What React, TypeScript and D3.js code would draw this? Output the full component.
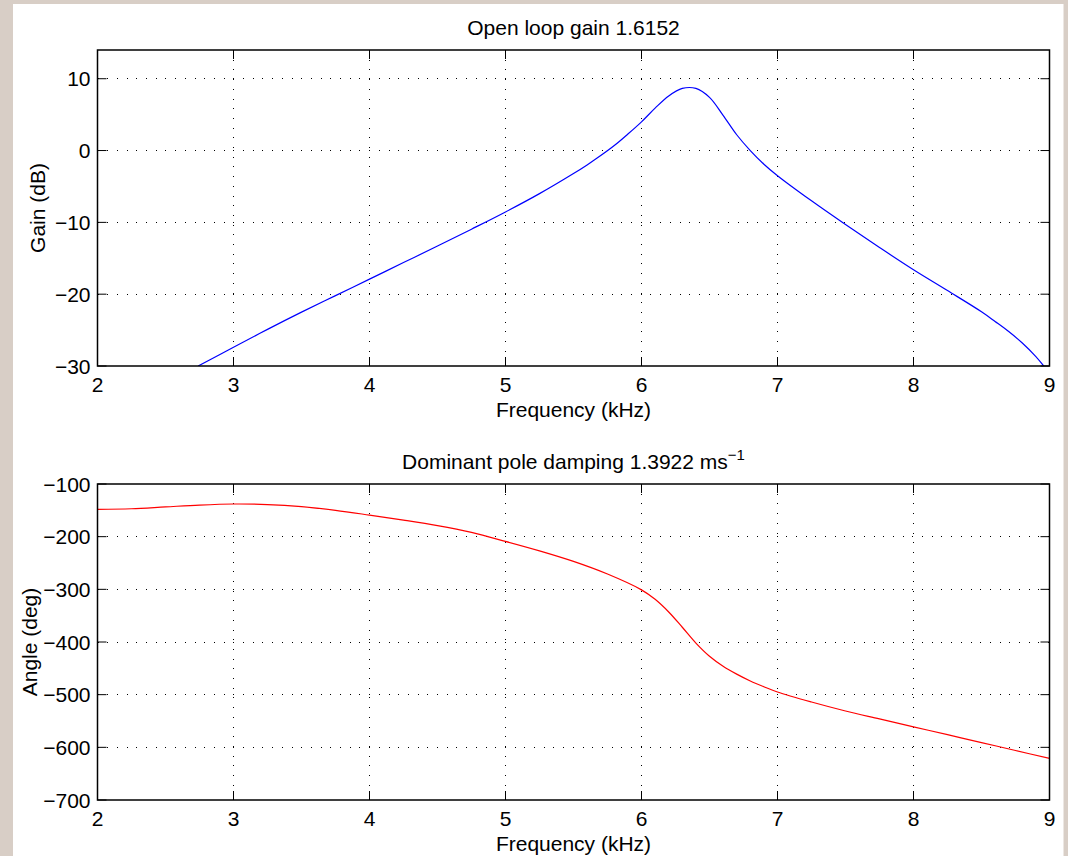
import React from "react";
import * as d3 from "d3";

// gain curve
const gainFreq = [2.74, 3.0, 3.25, 3.5, 3.75, 4.0, 4.25, 4.5, 4.75, 5.0, 5.25, 5.5, 5.6, 5.7, 5.8, 5.9, 6.0, 6.1, 6.2, 6.3, 6.4, 6.5, 6.6, 6.7, 6.8, 6.9, 7.0, 7.25, 7.5, 7.75, 8.0, 8.25, 8.5, 8.6, 8.7, 8.8, 8.9, 9.0];
const gainDb = [-30, -27.4, -24.9, -22.5, -20.2, -17.9, -15.6, -13.3, -10.95, -8.55, -6.0, -3.2, -2.0, -0.7, 0.7, 2.3, 4.0, 5.9, 7.6, 8.65, 8.65, 7.4, 4.9, 2.2, 0.0, -1.9, -3.5, -7.0, -10.3, -13.5, -16.6, -19.5, -22.45, -23.8, -25.2, -26.8, -28.7, -31.0];

// phase curve
const angleFreq = [2.0, 2.25, 2.5, 2.75, 3.0, 3.25, 3.5, 3.75, 4.0, 4.25, 4.5, 4.75, 5.0, 5.25, 5.5, 5.75, 6.0, 6.1, 6.2, 6.3, 6.4, 6.5, 6.6, 6.7, 6.8, 6.9, 7.0, 7.25, 7.5, 7.75, 8.0, 8.25, 8.5, 8.75, 9.0];
const angleDeg = [-148, -147, -143.5, -140, -138, -139, -143, -150, -159, -168.5, -179, -192, -209, -227, -247, -271, -301, -319, -343, -372, -402, -427, -446, -461, -474, -485, -495, -514, -531, -546, -561, -576, -591, -606, -621];

const xTicks = [2, 3, 4, 5, 6, 7, 8, 9];
const gainTicks = [-30, -20, -10, 0, 10];
const angleTicks = [-700, -600, -500, -400, -300, -200, -100];

const W = 1068;
const H = 856;
const FONT = "'Liberation Sans', Arial, Helvetica, sans-serif";
const FS = 21;
const left = 97.5;
const right = 1049.5;
const tickLen = 9;

type PanelProps = {
  top: number;
  bottom: number;
  yDomain: [number, number];
  yTicks: number[];
  xs: number[];
  ys: number[];
  color: string;
  id: string;
  yLabel: string;
  yLabelX: number;
  title: React.ReactNode;
};

const Panel = ({ top, bottom, yDomain, yTicks, xs, ys, color, id, yLabel, yLabelX, title }: PanelProps) => {
  const x = d3.scaleLinear().domain([2, 9]).range([left, right]);
  const y = d3.scaleLinear().domain(yDomain).range([bottom, top]);
  const line = d3
    .line<number>()
    .x((_, i) => x(xs[i]))
    .y((d) => y(d))
    .curve(d3.curveCatmullRom.alpha(0.5));

  return (
    <g>
      <clipPath id={id}>
        <rect x={left} y={top} width={right - left} height={bottom - top} />
      </clipPath>
      {/* dotted grid */}
      {xTicks.slice(1, -1).map((t) => (
        <line key={"gx" + t} x1={x(t)} x2={x(t)} y1={top} y2={bottom} stroke="#000" strokeWidth={1} strokeDasharray="1 8.7" shapeRendering="crispEdges" />
      ))}
      {yTicks.filter((t) => y(t) > top + 1 && y(t) < bottom - 1).map((t) => (
        <line key={"gy" + t} x1={left} x2={right} y1={y(t)} y2={y(t)} stroke="#000" strokeWidth={1} strokeDasharray="1 8.7" shapeRendering="crispEdges" />
      ))}
      <path d={line(ys) ?? ""} fill="none" stroke={color} strokeWidth={1.2} clipPath={`url(#${id})`} />
      {/* ticks on all four sides */}
      {xTicks.map((t) => (
        <g key={"tx" + t}>
          <line x1={x(t)} x2={x(t)} y1={bottom} y2={bottom - tickLen} stroke="#000" />
          <line x1={x(t)} x2={x(t)} y1={top} y2={top + tickLen} stroke="#000" />
          <text x={x(t)} y={bottom + 26} textAnchor="middle" fontSize={FS} fontFamily={FONT}>
            {t}
          </text>
        </g>
      ))}
      {yTicks.map((t) => (
        <g key={"ty" + t}>
          <line x1={left} x2={left + tickLen} y1={y(t)} y2={y(t)} stroke="#000" />
          <line x1={right} x2={right - tickLen} y1={y(t)} y2={y(t)} stroke="#000" />
          <text x={left - 7} y={y(t) + 7.5} textAnchor="end" fontSize={FS} fontFamily={FONT}>
            {t < 0 ? "\u2212" + Math.abs(t) : t}
          </text>
        </g>
      ))}
      <rect x={left} y={top} width={right - left} height={bottom - top} fill="none" stroke="#000" strokeWidth={1.5} />
      <text x={(left + right) / 2} y={top - 15} textAnchor="middle" fontSize={FS} fontFamily={FONT}>
        {title}
      </text>
      <text x={(left + right) / 2} y={bottom + 51} textAnchor="middle" fontSize={FS} fontFamily={FONT}>
        Frequency (kHz)
      </text>
      <text
        transform={`translate(${yLabelX},${(top + bottom) / 2}) rotate(-90)`}
        textAnchor="middle"
        fontSize={FS}
        fontFamily={FONT}
      >
        {yLabel}
      </text>
    </g>
  );
};

export default function App() {
  return (
    <svg width={W} height={H} style={{ position: "absolute", left: 0, top: 0, display: "block" }}>
      <rect x={0} y={0} width={W} height={H} fill="#d8cec6" />
      <rect x={13} y={4} width={1050.5} height={H - 4} fill="#fff" />
      <Panel
        top={50}
        bottom={366}
        yDomain={[-30, 14]}
        yTicks={gainTicks}
        xs={gainFreq}
        ys={gainDb}
        color="#0000ff"
        id="clipGain"
        yLabel="Gain (dB)"
        yLabelX={45}
        title="Open loop gain 1.6152"
      />
      <Panel
        top={484}
        bottom={800}
        yDomain={[-700, -100]}
        yTicks={angleTicks}
        xs={angleFreq}
        ys={angleDeg}
        color="#ff0000"
        id="clipAngle"
        yLabel="Angle (deg)"
        yLabelX={37}
        title={
          <>
            Dominant pole damping 1.3922 ms
            <tspan fontSize={15} dy={-9}>
              {"\u22121"}
            </tspan>
          </>
        }
      />
    </svg>
  );
}
